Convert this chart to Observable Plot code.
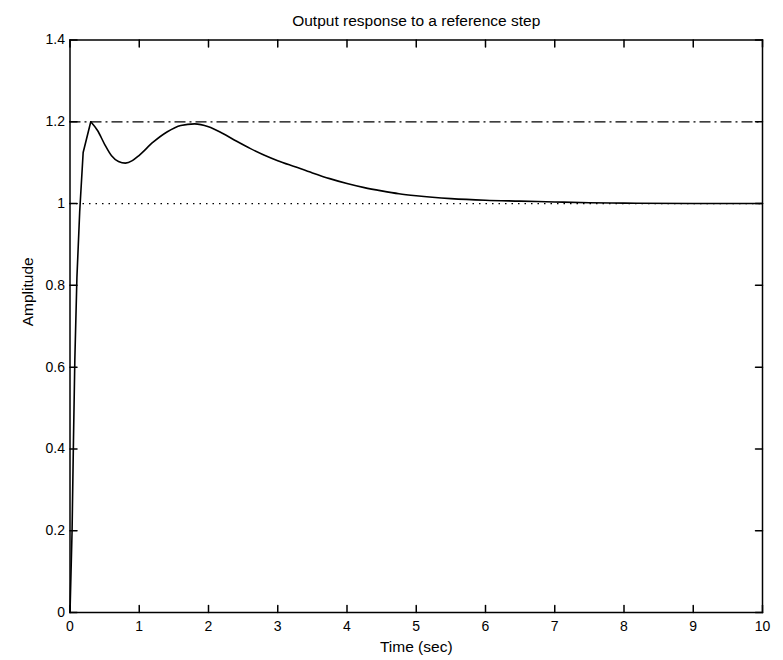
<!DOCTYPE html>
<html>
<head>
<meta charset="utf-8">
<script src="https://cdn.jsdelivr.net/npm/d3@7"></script>
<script src="https://cdn.jsdelivr.net/npm/@observablehq/plot@0.6"></script>
<style>
  html, body { margin: 0; padding: 0; background: #fff; }
  svg { font-family: "Liberation Sans", Arial, Helvetica, sans-serif; }
</style>
</head>
<body>
<div id="chart"></div>
<script>
const title = "Output response to a reference step";
const xLabel = "Time (sec)";
const yLabel = "Amplitude";

const xTicks = [0, 1, 2, 3, 4, 5, 6, 7, 8, 9, 10];
const yTicks = [0, 0.2, 0.4, 0.6, 0.8, 1, 1.2, 1.4];

const referenceLevel = 1.0;
const overshootLimit = 1.2;

// rising edge (sharp, straight segments) and the smooth remainder
const riseTime = [0, 0.03, 0.05, 0.07, 0.1, 0.14, 0.19, 0.3];
const riseAmplitude = [0, 0.2, 0.42, 0.62, 0.82, 0.98, 1.125, 1.2];

const tailTime = [0.3, 0.4, 0.5, 0.6, 0.7, 0.8, 0.9, 1.0, 1.2, 1.4, 1.6, 1.8, 2.0, 2.2, 2.4, 2.6, 2.8,
  3.0, 3.25, 3.5, 3.75, 4.0, 4.25, 4.5, 4.75, 5.0, 5.5, 6.0, 6.5, 7.0, 7.5, 8, 9, 10];
const tailAmplitude = [1.2, 1.178, 1.145, 1.117, 1.103, 1.099, 1.105, 1.118, 1.150, 1.175, 1.191, 1.195, 1.188, 1.172, 1.153, 1.135, 1.119,
  1.105, 1.090, 1.075, 1.061, 1.049, 1.039, 1.031, 1.024, 1.019, 1.012, 1.008, 1.006, 1.004, 1.002, 1.001, 1.0, 1.0];

const rise = riseTime.map((t, i) => ({t, a: riseAmplitude[i]}));
const tail = tailTime.map((t, i) => ({t, a: tailAmplitude[i]}));

const font = 14;
const labelFont = 15.5;

const tickShape = {
  draw(context, l) {
    context.moveTo(0, 0);
    context.lineTo(0, -l);
  }
};

const chart = Plot.plot({
  width: 783,
  height: 660,
  marginLeft: 69.5,
  marginRight: 21,
  marginTop: 39.5,
  marginBottom: 48,
  style: {fontSize: font + "px", fontFamily: '"Liberation Sans", Arial, Helvetica, sans-serif', background: "#fff", color: "#000"},
  x: {domain: [0, 10], ticks: xTicks},
  y: {domain: [0, 1.4], ticks: yTicks},
  marks: [
    Plot.ruleY([overshootLimit], {stroke: "#000", strokeWidth: 1.3, strokeDasharray: "11,4,2,4"}),
    Plot.ruleY([referenceLevel], {stroke: "#000", strokeWidth: 1.3, strokeDasharray: "1.5,5"}),
    Plot.line(rise, {x: "t", y: "a", stroke: "#000", strokeWidth: 1.6}),
    Plot.line(tail, {x: "t", y: "a", stroke: "#000", strokeWidth: 1.6, curve: "monotone-x"}),
    Plot.frame({stroke: "#000", strokeWidth: 1.5}),
    // inward ticks on all four sides
    Plot.vector(xTicks, {x: d => d, y: 0, length: 7, rotate: 0, anchor: "start", shape: tickShape, stroke: "#000", strokeWidth: 1.5}),
    Plot.vector(xTicks, {x: d => d, y: 1.4, length: 7, rotate: 180, anchor: "start", shape: tickShape, stroke: "#000", strokeWidth: 1.5}),
    Plot.vector(yTicks, {x: 0, y: d => d, length: 7, rotate: 90, anchor: "start", shape: tickShape, stroke: "#000", strokeWidth: 1.5}),
    Plot.vector(yTicks, {x: 10, y: d => d, length: 7, rotate: -90, anchor: "start", shape: tickShape, stroke: "#000", strokeWidth: 1.5}),
    Plot.axisX(xTicks, {tickSize: 0, tickPadding: 9, label: null, fontSize: font, fill: "#000"}),
    Plot.axisY(yTicks, {tickSize: 0, tickPadding: 5, label: null, fontSize: font, fill: "#000", tickFormat: d => String(d)}),
    Plot.text([title], {frameAnchor: "top", dy: -25, fontSize: labelFont, fill: "#000"}),
    Plot.text([xLabel], {frameAnchor: "bottom", dy: 39, fontSize: labelFont, fill: "#000"}),
    Plot.text([yLabel], {frameAnchor: "left", dx: -42, rotate: -90, fontSize: labelFont, fill: "#000"})
  ]
});

document.getElementById("chart").appendChild(chart);
</script>
</body>
</html>
